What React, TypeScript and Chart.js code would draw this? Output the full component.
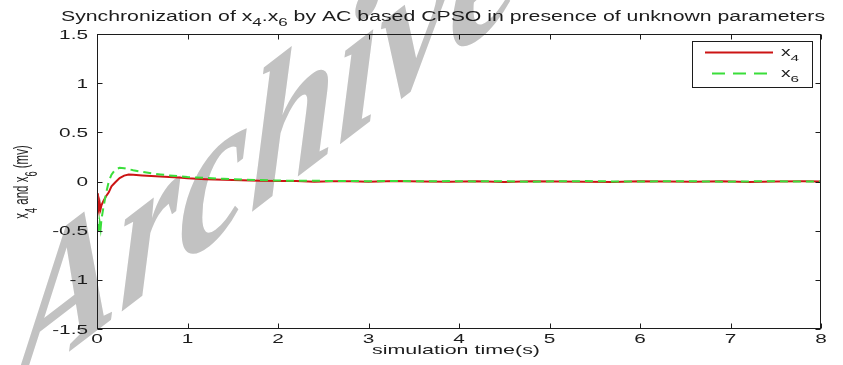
import React, { useEffect, useRef } from "react";
import { Chart, registerables } from "chart.js";

Chart.register(...registerables);

// ---- data ----
const timeS = [0, 0.01, 0.02, 0.03, 0.04, 0.05, 0.07, 0.1, 0.13, 0.16, 0.2, 0.25, 0.3, 0.35, 0.4, 0.5, 0.6, 0.7, 0.8, 0.9, 1.0, 1.2, 1.4, 1.6, 1.8, 2.0, 2.2, 2.4, 2.6, 2.8, 3.0, 3.3, 3.6, 3.9, 4.2, 4.5, 4.8, 5.1, 5.4, 5.7, 6.0, 6.3, 6.6, 6.9, 7.2, 7.5, 7.8, 8.0];
const x4Values = [-0.12, -0.26, -0.3, -0.22, -0.28, -0.24, -0.2, -0.15, -0.11, -0.05, -0.01, 0.035, 0.06, 0.07, 0.068, 0.062, 0.056, 0.05, 0.045, 0.04, 0.033, 0.024, 0.018, 0.012, 0.008, 0.005, 0.004, -0.003, 0.002, 0.003, -0.002, 0.004, 0.001, -0.003, 0.002, -0.004, 0.003, 0.001, -0.002, -0.005, 0.002, 0.001, -0.003, 0.002, -0.004, 0.001, 0.002, 0.0];
const x6Values = [-0.3, -0.46, -0.53, -0.42, -0.48, -0.38, -0.27, -0.12, 0.0, 0.07, 0.12, 0.14, 0.135, 0.125, 0.115, 0.098, 0.083, 0.072, 0.062, 0.054, 0.045, 0.036, 0.028, 0.02, 0.015, 0.01, 0.007, 0.008, 0.004, 0.006, 0.003, 0.005, 0.002, 0.004, 0.001, 0.003, -0.002, 0.002, 0.004, 0.001, -0.001, 0.003, 0.002, -0.002, 0.001, 0.003, -0.001, 0.0];
const xTicks = [0, 1, 2, 3, 4, 5, 6, 7, 8];
const yTicks = [-1.5, -1, -0.5, 0, 0.5, 1, 1.5];
const yTickLabels = ["-1.5", "-1", "-0.5", "0", "0.5", "1", "1.5"];
const seriesNames = ["x", "x"];
const seriesSubs = ["4", "6"];

const RED = "#cc1414";
const GREEN = "#3ade3a";
const INK = "#1c1c1c";
const FONT = "'Liberation Sans', Arial, sans-serif";
const SX = 1.6;

type Part = { t: string; sub?: boolean };

function fnt(size: number) {
  return `${size}px ${FONT}`;
}

function richWidth(ctx: CanvasRenderingContext2D, parts: Part[], size: number) {
  let w = 0;
  for (const p of parts) {
    ctx.font = fnt(p.sub ? size * 0.8 : size);
    w += ctx.measureText(p.t).width;
  }
  return w;
}

function drawRich(
  ctx: CanvasRenderingContext2D,
  parts: Part[],
  x: number,
  y: number,
  size: number,
  sx: number,
  align: "left" | "center" | "right",
  rot = false,
  subOff = 0.38
) {
  ctx.save();
  ctx.translate(x, y);
  ctx.scale(sx, 1);
  if (rot) ctx.rotate(-Math.PI / 2);
  const w = richWidth(ctx, parts, size);
  let cx = align === "center" ? -w / 2 : align === "right" ? -w : 0;
  ctx.textAlign = "left";
  ctx.textBaseline = "alphabetic";
  ctx.fillStyle = INK;
  for (const p of parts) {
    ctx.font = fnt(p.sub ? size * 0.8 : size);
    ctx.fillText(p.t, cx, p.sub ? size * subOff : 0);
    cx += ctx.measureText(p.t).width;
  }
  ctx.restore();
}

function fitRich(ctx: CanvasRenderingContext2D, parts: Part[], size: number, target: number) {
  return target / richWidth(ctx, parts, size);
}

const titleParts: Part[] = [
  { t: "Synchronization of x" },
  { t: "4", sub: true },
  { t: ".x" },
  { t: "6", sub: true },
  { t: " by AC based CPSO in presence of unknown parameters" },
];
const yLabelParts: Part[] = [
  { t: "x" },
  { t: "4", sub: true },
  { t: " and x" },
  { t: "6", sub: true },
  { t: " (mv)" },
];
const xLabelParts: Part[] = [{ t: "simulation time(s)" }];

const bgPlugin = {
  id: "bgWatermark",
  beforeDraw(chart: any) {
    const ctx: CanvasRenderingContext2D = chart.ctx;
    ctx.save();
    ctx.fillStyle = "#ffffff";
    ctx.fillRect(0, 0, chart.width, chart.height);
    // watermark (sheared diagonal text)
    ctx.translate(14, 394);
    ctx.transform(0.9, -0.69, 0, 1.12, 0, 0);
    ctx.font = "italic bold 174px 'Liberation Serif', 'Times New Roman', serif";
    ctx.fillStyle = "#c2c2c2";
    ctx.textBaseline = "alphabetic";
    ctx.fillText("Archive", 0, 0);
    ctx.restore();
  },
};

const decorPlugin = {
  id: "decor",
  afterDraw(chart: any) {
    const ctx: CanvasRenderingContext2D = chart.ctx;
    const { left, right, top, bottom } = chart.chartArea;
    const xs = chart.scales.x;
    const ys = chart.scales.y;
    const L = Math.round(left) + 0.5;
    const R = Math.round(right) - 0.5;
    const T = Math.round(top) + 0.5;
    const B = Math.round(bottom) - 0.5;
    ctx.save();
    ctx.strokeStyle = INK;
    ctx.lineWidth = 1;
    ctx.strokeRect(L, T, R - L, B - T);
    const tl = 5;
    ctx.beginPath();
    for (const v of xTicks) {
      const px = Math.round(xs.getPixelForValue(v)) + 0.5;
      ctx.moveTo(px, B);
      ctx.lineTo(px, B - tl);
      ctx.moveTo(px, T);
      ctx.lineTo(px, T + tl);
    }
    for (const v of yTicks) {
      const py = Math.round(ys.getPixelForValue(v)) + 0.5;
      ctx.moveTo(L, py);
      ctx.lineTo(L + tl, py);
      ctx.moveTo(R, py);
      ctx.lineTo(R - tl, py);
    }
    ctx.stroke();

    // tick labels
    ctx.fillStyle = INK;
    ctx.font = fnt(13);
    ctx.textBaseline = "alphabetic";
    for (const v of xTicks) {
      const px = xs.getPixelForValue(v);
      ctx.save();
      ctx.translate(px, bottom + 14);
      ctx.scale(SX, 1);
      ctx.textAlign = "center";
      ctx.fillText(String(v), 0, 0);
      ctx.restore();
    }
    yTicks.forEach((v, i) => {
      const py = ys.getPixelForValue(v);
      ctx.save();
      ctx.translate(left - 9, py + 4.5);
      ctx.scale(SX, 1);
      ctx.textAlign = "right";
      ctx.fillText(yTickLabels[i], 0, 0);
      ctx.restore();
    });

    // title
    const tsx = fitRich(ctx, titleParts, 14, 764);
    drawRich(ctx, titleParts, 61, 21, 14, tsx, "left");
    // x label
    const xsx = fitRich(ctx, xLabelParts, 13, 168);
    drawRich(ctx, xLabelParts, 456, 354, 13, xsx, "center");
    // y label
    drawRich(ctx, yLabelParts, 28, 182, 11.5, 1.7, "center", true, 0.45);

    // legend
    const bx = 692.5, by = 41.5, bw = 120, bh = 46;
    ctx.fillStyle = "#ffffff";
    ctx.fillRect(bx, by, bw, bh);
    ctx.strokeStyle = INK;
    ctx.lineWidth = 1;
    ctx.strokeRect(bx, by, bw, bh);
    ctx.lineWidth = 2;
    ctx.strokeStyle = RED;
    ctx.beginPath();
    ctx.moveTo(705, 52.5);
    ctx.lineTo(773, 52.5);
    ctx.stroke();
    ctx.strokeStyle = GREEN;
    ctx.setLineDash([13, 8]);
    ctx.beginPath();
    ctx.moveTo(712, 73.5);
    ctx.lineTo(773, 73.5);
    ctx.stroke();
    ctx.setLineDash([]);
    drawRich(ctx, [{ t: seriesNames[0] }, { t: seriesSubs[0], sub: true }], 781, 56, 12, SX, "left");
    drawRich(ctx, [{ t: seriesNames[1] }, { t: seriesSubs[1], sub: true }], 781, 77, 12, SX, "left");
    ctx.restore();
  },
};

export default function App() {
  const ref = useRef<HTMLCanvasElement | null>(null);
  useEffect(() => {
    if (!ref.current) return;
    const chart = new Chart(ref.current, {
      type: "line",
      data: {
        datasets: [
          {
            label: "x4",
            data: timeS.map((t, i) => ({ x: t, y: x4Values[i] })),
            borderColor: RED,
            borderWidth: 2,
            pointRadius: 0,
            tension: 0,
            order: 1,
          },
          {
            label: "x6",
            data: timeS.map((t, i) => ({ x: t, y: x6Values[i] })),
            borderColor: GREEN,
            borderWidth: 2,
            borderDash: [8, 5],
            pointRadius: 0,
            tension: 0,
            order: 0,
          },
        ],
      },
      options: {
        responsive: false,
        animation: false,
        layout: { padding: { left: 97, top: 34, right: 22, bottom: 36 } },
        scales: {
          x: { type: "linear", min: 0, max: 8, display: false },
          y: { type: "linear", min: -1.5, max: 1.5, display: false },
        },
        plugins: {
          legend: { display: false },
          title: { display: false },
          tooltip: { enabled: false },
        },
      },
      plugins: [bgPlugin, decorPlugin],
    } as any);
    return () => chart.destroy();
  }, []);
  return (
    <div style={{ position: "absolute", left: 0, top: 0, width: 843, height: 365, background: "#fff" }}>
      <canvas ref={ref} width={843} height={365} style={{ display: "block" }} />
    </div>
  );
}
